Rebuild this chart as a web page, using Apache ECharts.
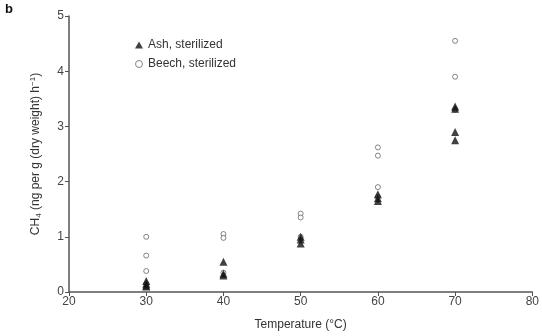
<!DOCTYPE html>
<html><head><meta charset="utf-8">
<script src="https://cdn.jsdelivr.net/npm/echarts@6/dist/echarts.min.js"></script>
<style>html,body{margin:0;padding:0;background:#fff}#c{width:542px;height:336px}</style>
</head><body><div id="c"></div>
<script>
// Data
var ashTemps   = [30, 30, 30, 30, 40, 40, 40, 50, 50, 50, 60, 60, 60, 70, 70, 70, 70];
var ashValues  = [0.2, 0.15, 0.1, 0.12, 0.55, 0.33, 0.3, 1.0, 0.95, 0.88, 1.77, 1.7, 1.65, 3.36, 3.32, 2.9, 2.75];
var beechTemps  = [30, 30, 30, 30, 40, 40, 40, 50, 50, 50, 60, 60, 60, 60, 70, 70, 70];
var beechValues = [1.0, 0.66, 0.38, 0.15, 1.05, 0.98, 0.35, 1.42, 1.35, 1.0, 2.62, 2.47, 1.9, 1.72, 4.55, 3.9, 3.3];
var xTicks = [20, 30, 40, 50, 60, 70, 80];
var yTicks = [0, 1, 2, 3, 4, 5];
var seriesNames = ['Ash, sterilized', 'Beech, sterilized'];

function pairs(xs, ys){ return xs.map(function(x,i){ return [x, ys[i]]; }); }

var font = 'Liberation Sans, Arial, sans-serif';
var chart = echarts.init(document.getElementById('c'), null, {renderer:'canvas'});
chart.setOption({
  backgroundColor:'#fff',
  animation:false,
  graphic:[{type:'text', left:5, top:3, style:{text:'b', font:'bold 13px ' + font, fill:'#111'}}],
  legend:{
    orient:'vertical', left:130, top:34, itemGap:7, itemWidth:8, itemHeight:7,
    textStyle:{fontFamily:font, fontSize:12, color:'#333'},
    data:[{name:seriesNames[0], icon:'triangle', itemStyle:{color:'#111'}},
          {name:seriesNames[1], icon:'circle', itemStyle:{color:'#fff', borderColor:'#666', borderWidth:1}}]
  },
  grid:{left:69, right:6, top:16, bottom:43, containLabel:false},
  xAxis:{
    type:'value', min:xTicks[0], max:xTicks[xTicks.length-1], interval:10,
    name:'Temperature (°C)', nameLocation:'middle', nameGap:27,
    nameTextStyle:{fontFamily:font, fontSize:12, color:'#333'},
    axisLine:{lineStyle:{color:'#555', width:1.5}},
    axisTick:{show:true, length:4, lineStyle:{color:'#555'}},
    axisLabel:{fontFamily:font, fontSize:12, color:'#444', margin:4},
    splitLine:{show:false}
  },
  yAxis:{
    type:'value', min:yTicks[0], max:yTicks[yTicks.length-1], interval:1,
    name:'{a|CH}{s|4}{a| (ng per g (dry weight) h}{p|−1}{a|)}', nameLocation:'middle', nameGap:26,
    nameTextStyle:{fontFamily:font, fontSize:12, color:'#333',
      rich:{
        a:{fontFamily:font, fontSize:12, color:'#333'},
        s:{fontFamily:font, fontSize:8, color:'#333', padding:[6,0,0,0]},
        p:{fontFamily:font, fontSize:8, color:'#333', padding:[0,0,6,0]}
      }},
    axisLine:{show:true, lineStyle:{color:'#555', width:1.5}},
    axisTick:{show:true, length:4, lineStyle:{color:'#555'}},
    axisLabel:{fontFamily:font, fontSize:12, color:'#444', margin:5},
    splitLine:{show:false}
  },
  series:[
    {name:seriesNames[0], type:'scatter', symbol:'triangle', symbolSize:8,
     itemStyle:{color:'#111'}, data:pairs(ashTemps, ashValues), z:3},
    {name:seriesNames[1], type:'scatter', symbol:'circle', symbolSize:5,
     itemStyle:{color:'#fff', borderColor:'#666', borderWidth:1}, data:pairs(beechTemps, beechValues), z:2}
  ]
});
</script></body></html>
